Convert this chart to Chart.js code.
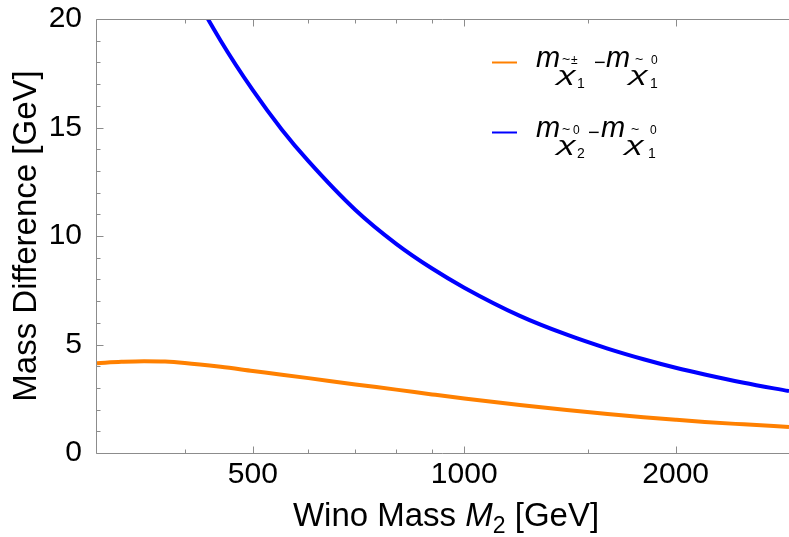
<!DOCTYPE html>
<html>
<head>
<meta charset="utf-8">
<script src="https://cdn.jsdelivr.net/npm/chart.js@4/dist/chart.umd.min.js"></script>
<style>
  html, body { margin: 0; padding: 0; background: #fff; }
  #wrap { width: 789px; height: 537px; position: relative; }
</style>
</head>
<body>
<div id="wrap"><canvas id="chart"></canvas></div>
<script>
// wino mass M2 [GeV] (log axis)
const masses = [300, 325, 350, 375, 400, 450, 500, 550, 600, 700, 800, 900, 1000, 1200, 1400, 1600, 1800, 2000, 2200, 2500, 2900];
// m(chi1+-) - m(chi1 0) [GeV]
const chargedSplit = [4.14, 4.20, 4.23, 4.215, 4.15, 3.97, 3.78, 3.61, 3.45, 3.16, 2.92, 2.70, 2.51, 2.21, 1.98, 1.80, 1.65, 1.53, 1.43, 1.32, 1.20];
// m(chi2 0) - m(chi1 0) [GeV]
const neutralSplit = [31.8, 28.7, 26.0, 23.8, 21.95, 19.0, 16.72, 14.9, 13.45, 11.2, 9.64, 8.5, 7.62, 6.32, 5.45, 4.81, 4.32, 3.93, 3.62, 3.24, 2.85];

const xTickLabels = [500, 1000, 2000];
const xMinorTicks = [400, 600, 700, 800, 900, 1500];
const yTickLabels = [0, 5, 10, 15, 20];

const FONT = '"Liberation Sans", Arial, Helvetica, sans-serif';
const ORANGE = '#ff8000';
const BLUE = '#0000ff';
const AXIS = '#8c8c8c';

Chart.defaults.font.family = FONT;
Chart.defaults.color = '#000';

// text pieces; w stretches a glyph to a given width
function drawParts(ctx, parts, dy) {
  parts.forEach(p => {
    ctx.font = p.f + ' ' + FONT;
    if (p.w) {
      const sx = p.w / ctx.measureText(p.t).width;
      ctx.save();
      ctx.translate(p.x, p.y + dy);
      ctx.scale(sx, 1);
      ctx.fillText(p.t, 0, 0);
      ctx.restore();
    } else {
      ctx.fillText(p.t, p.x, p.y + dy);
    }
  });
}

const legendRow1 = [
  { t: 'm', f: 'italic 29px', x: 536, y: 67 },
  { t: 'χ', f: 'italic 20px', x: 557, y: 81, w: 19 },
  { t: '~', f: '14px', x: 562, y: 64 },
  { t: '±', f: '12px', x: 571, y: 64 },
  { t: '1', f: '14px', x: 577, y: 88 },
  { t: '−', f: '20px', x: 594, y: 69 },
  { t: 'm', f: 'italic 29px', x: 606, y: 67 },
  { t: 'χ', f: 'italic 20px', x: 629, y: 81, w: 19 },
  { t: '~', f: '14px', x: 635, y: 64 },
  { t: '0', f: '12px', x: 651, y: 64 },
  { t: '1', f: '14px', x: 650, y: 88 }
];
const legendRow2 = [
  { t: 'm', f: 'italic 29px', x: 536, y: 67 },
  { t: 'χ', f: 'italic 20px', x: 557, y: 81, w: 19 },
  { t: '~', f: '14px', x: 562, y: 64 },
  { t: '0', f: '12px', x: 573, y: 64 },
  { t: '2', f: '14px', x: 577, y: 88 },
  { t: '−', f: '20px', x: 588, y: 69 },
  { t: 'm', f: 'italic 29px', x: 601, y: 67 },
  { t: 'χ', f: 'italic 20px', x: 625, y: 81, w: 19 },
  { t: '~', f: '14px', x: 631, y: 64 },
  { t: '0', f: '12px', x: 650, y: 64 },
  { t: '1', f: '14px', x: 648, y: 88 }
];

// frame with inward ticks, legend and x title (Mathematica style)
const decorations = {
  id: 'decorations',
  afterDatasetsDraw(chart) {
    const { ctx, chartArea: a, scales: { x, y } } = chart;
    ctx.save();
    ctx.strokeStyle = AXIS;
    ctx.lineWidth = 1;
    ctx.beginPath();
    ctx.moveTo(a.left - 0.5, a.top + 0.5);
    ctx.lineTo(a.left - 0.5, a.bottom + 0.5);
    ctx.moveTo(a.left - 0.5, a.bottom + 0.5);
    ctx.lineTo(a.right, a.bottom + 0.5);
    ctx.moveTo(a.left - 0.5, a.top + 0.5);
    ctx.lineTo(a.right, a.top + 0.5);
    const xt = (v, len) => {
      const px = Math.round(x.getPixelForValue(v)) + 0.5;
      ctx.moveTo(px, a.bottom + 0.5); ctx.lineTo(px, a.bottom + 0.5 - len);
      ctx.moveTo(px, a.top + 0.5); ctx.lineTo(px, a.top + 0.5 + len);
    };
    xTickLabels.forEach(v => xt(v, 7));
    xMinorTicks.forEach(v => xt(v, 4));
    for (let v = 0; v <= 20; v++) {
      const py = Math.round(y.getPixelForValue(v)) + 0.5;
      ctx.moveTo(a.left - 0.5, py);
      ctx.lineTo(a.left - 0.5 + (v % 5 === 0 ? 7 : 4), py);
    }
    ctx.stroke();

    // legend
    ctx.lineWidth = 2;
    ctx.strokeStyle = ORANGE;
    ctx.beginPath(); ctx.moveTo(492, 62.5); ctx.lineTo(517, 62.5); ctx.stroke();
    ctx.strokeStyle = BLUE;
    ctx.beginPath(); ctx.moveTo(492, 132.5); ctx.lineTo(517, 132.5); ctx.stroke();

    ctx.fillStyle = '#000';
    ctx.textBaseline = 'alphabetic';
    ctx.textAlign = 'left';
    drawParts(ctx, legendRow1, 0);
    drawParts(ctx, legendRow2, 70);

    // x axis title: Wino Mass M_2 [GeV]
    const pieces = [
      { t: 'Wino Mass ', f: '33px', dy: 0 },
      { t: 'M', f: 'italic 33px', dy: 0 },
      { t: '2', f: '23px', dy: 7 },
      { t: ' [GeV]', f: '33px', dy: 0 }
    ];
    let total = 0;
    pieces.forEach(p => { ctx.font = p.f + ' ' + FONT; p.w = ctx.measureText(p.t).width; total += p.w; });
    let cx = 446 - total / 2;
    pieces.forEach(p => {
      ctx.font = p.f + ' ' + FONT;
      ctx.fillText(p.t, cx, 526 + p.dy);
      cx += p.w;
    });
    ctx.restore();
  }
};

new Chart(document.getElementById('chart'), {
  type: 'line',
  data: {
    datasets: [
      {
        label: 'chargino - neutralino1',
        data: masses.map((m, i) => ({ x: m, y: chargedSplit[i] })),
        borderColor: ORANGE,
        borderWidth: 4,
        pointRadius: 0,
        cubicInterpolationMode: 'monotone',
        clip: 0
      },
      {
        label: 'neutralino2 - neutralino1',
        data: masses.map((m, i) => ({ x: m, y: neutralSplit[i] })),
        borderColor: BLUE,
        borderWidth: 4,
        pointRadius: 0,
        cubicInterpolationMode: 'monotone',
        clip: 0
      }
    ]
  },
  options: {
    responsive: true,
    maintainAspectRatio: false,
    animation: false,
    layout: { padding: { top: 19, right: 0, bottom: 0, left: 0 } },
    plugins: { legend: { display: false }, tooltip: { enabled: false } },
    scales: {
      x: {
        type: 'logarithmic',
        min: 300,
        max: 2900,
        bounds: 'data',
        grid: { display: false },
        border: { display: false },
        afterBuildTicks: s => { s.ticks = xTickLabels.map(v => ({ value: v })); },
        afterFit: s => { s.height = 84; s.paddingLeft = 0; s.paddingRight = 0; },
        ticks: {
          autoSkip: false,
          maxRotation: 0,
          padding: -4,
          font: { size: 30 },
          color: '#000',
          callback: v => String(v)
        }
      },
      y: {
        min: 0,
        max: 20,
        grid: { display: false },
        border: { display: false },
        afterBuildTicks: s => { s.ticks = yTickLabels.map(v => ({ value: v })); },
        afterFit: s => { s.width = 97; s.paddingTop = 0; s.paddingBottom = 0; },
        ticks: { padding: 7, font: { size: 30 }, color: '#000' },
        title: {
          display: true,
          text: 'Mass Difference [GeV]',
          font: { size: 33 },
          color: '#000',
          padding: { top: 7, bottom: 0 }
        }
      }
    }
  },
  plugins: [decorations]
});
</script>
</body>
</html>
